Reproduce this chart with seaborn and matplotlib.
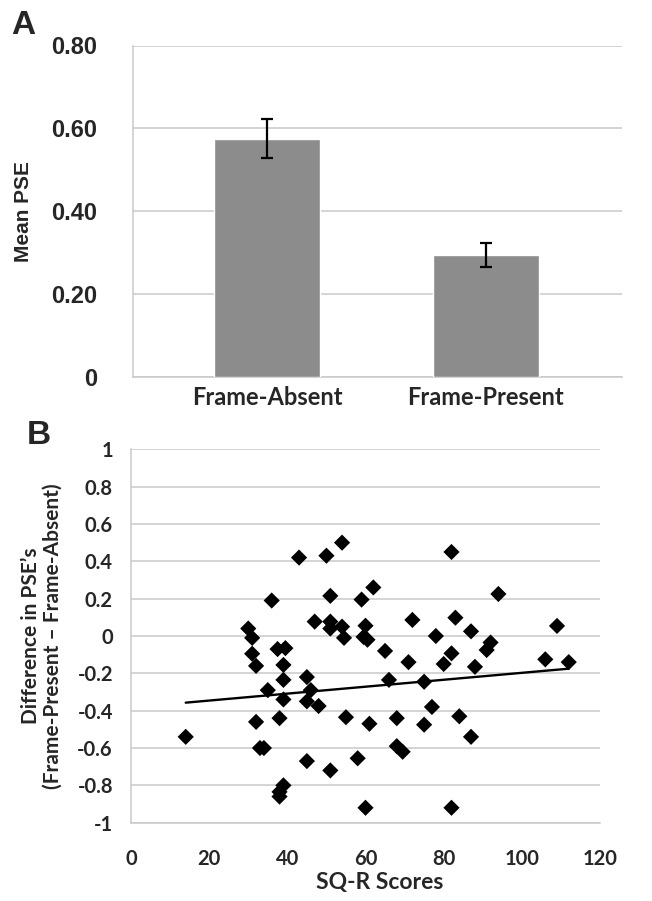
import matplotlib
matplotlib.use("Agg")
import matplotlib.pyplot as plt
import seaborn as sns
import pandas as pd
import numpy as np

# ---- Panel A data ----
conditions = ["Frame-Absent", "Frame-Present"]
mean_pse = [0.575, 0.293]
sem_pse = [0.047, 0.029]
a_ticks = [0, 0.2, 0.4, 0.6, 0.8]
a_ticklabels = ["0", "0.20", "0.40", "0.60", "0.80"]

# ---- Panel B data ----
sqr_scores = [14, 30, 31, 31, 32, 32, 33, 34, 35, 36,
              37.5, 39.5, 39, 39, 39, 38, 39, 38, 38, 43,
              45, 46, 45, 48, 45, 47, 50, 51, 51, 51,
              54, 54.5, 54, 55, 51, 58, 59, 60, 59.5, 60.5,
              61, 60, 62, 65, 66, 68, 68, 69.5, 71, 72,
              75, 75, 77, 78, 80, 82, 82, 83, 84, 82,
              87, 87, 88, 91, 92, 94, 106, 109, 112]
pse_diff = [-0.54, 0.04, -0.01, -0.095, -0.16, -0.46, -0.60, -0.60, -0.29, 0.19,
            -0.07, -0.065, -0.155, -0.235, -0.34, -0.44, -0.80, -0.835, -0.86, 0.42,
            -0.22, -0.29, -0.35, -0.375, -0.67, 0.077, 0.43, 0.215, 0.077, 0.04,
            0.05, -0.01, 0.50, -0.435, -0.72, -0.655, 0.195, 0.055, -0.005, -0.02,
            -0.47, -0.92, 0.26, -0.08, -0.235, -0.44, -0.59, -0.62, -0.14, 0.086,
            -0.245, -0.475, -0.38, 0.0, -0.15, 0.45, -0.093, 0.098, -0.43, -0.92,
            0.025, -0.54, -0.165, -0.075, -0.035, 0.225, -0.125, 0.054, -0.14]
# linear trendline as drawn in the figure (end points)
trend_x = [14, 112]
trend_y = [-0.357, -0.175]
b_yticks = [-1, -0.8, -0.6, -0.4, -0.2, 0, 0.2, 0.4, 0.6, 0.8, 1]
b_yticklabels = ["-1", "-0.8", "-0.6", "-0.4", "-0.2", "0", "0.2", "0.4", "0.6", "0.8", "1"]
b_xticks = [0, 20, 40, 60, 80, 100, 120]

sns.set_style("white")
plt.rcParams['font.family'] = ['Lato', 'DejaVu Sans']

grid_c = "#c9c9c9"
fig = plt.figure(figsize=(6.52, 9.01), dpi=100)
W, H = 652.0, 901.0

# ---------------- Panel A ----------------
a_l, a_r, a_t, a_b = 133, 622, 45.5, 376.7
axA = fig.add_axes([a_l / W, 1 - a_b / H, (a_r - a_l) / W, (a_b - a_t) / H])
dfA = pd.DataFrame({"cond": conditions, "pse": mean_pse})
sns.barplot(data=dfA, x="cond", y="pse", color="#8c8c8c", saturation=1,
            width=0.486, ax=axA, zorder=3)
axA.errorbar(range(len(conditions)), mean_pse, yerr=sem_pse, fmt="none",
             ecolor="black", elinewidth=1.6, capsize=4, capthick=1.6, zorder=4)
axA.set_ylim(0, 0.8)
axA.set_xlim(-0.615, 1.625)
axA.set_yticks(a_ticks)
axA.set_yticklabels(a_ticklabels, fontfamily="Liberation Sans", fontweight="bold", fontsize=17)
axA.set_xticks(range(len(conditions)))
axA.set_xticklabels(conditions, fontweight="bold", fontsize=17)
axA.yaxis.grid(True, color=grid_c, lw=1.1, zorder=0)
axA.set_axisbelow(True)
for s in ["top", "right"]:
    axA.spines[s].set_visible(False)
for s in ["left", "bottom"]:
    axA.spines[s].set_color(grid_c)
    axA.spines[s].set_linewidth(1.1)
axA.tick_params(axis="y", length=4, color=grid_c, width=1.1, pad=22)
axA.tick_params(axis="x", length=0, pad=7)
axA.set_xlabel("")
axA.set_ylabel("Mean PSE", fontfamily="Liberation Sans", fontweight="bold", fontsize=15, va="center")
axA.yaxis.set_label_coords((24 - a_l) / (a_r - a_l), 0.5)
fig.text(11 / W, 1 - 34 / H, "A", fontfamily="Liberation Sans", fontweight="bold", fontsize=24)

# ---------------- Panel B ----------------
b_l, b_r, b_t, b_b = 131, 600, 449.3, 822.7
axB = fig.add_axes([b_l / W, 1 - b_b / H, (b_r - b_l) / W, (b_b - b_t) / H])
dfB = pd.DataFrame({"sqr": sqr_scores, "diff": pse_diff})
dfT = pd.DataFrame({"sqr": trend_x, "diff": trend_y})
sns.lineplot(data=dfT, x="sqr", y="diff", ax=axB, color="black", lw=1.7, zorder=3)
sns.scatterplot(data=dfB, x="sqr", y="diff", ax=axB, color="black", marker="D",
                s=68, edgecolor="none", zorder=4)
axB.set_xlim(0, 120)
axB.set_ylim(-1, 1)
axB.set_xticks(b_xticks)
axB.set_xticklabels([str(t) for t in b_xticks], fontweight="bold", fontsize=14.5)
axB.set_yticks(b_yticks)
axB.set_yticklabels(b_yticklabels, fontweight="bold", fontsize=14.5)
axB.yaxis.grid(True, color=grid_c, lw=1.1, zorder=0)
axB.set_axisbelow(True)
for s in ["top", "right"]:
    axB.spines[s].set_visible(False)
for s in ["left", "bottom"]:
    axB.spines[s].set_color(grid_c)
    axB.spines[s].set_linewidth(1.1)
axB.tick_params(axis="y", length=5, color=grid_c, width=1.1, pad=8)
axB.tick_params(axis="x", length=5, color=grid_c, width=1.1, pad=14)
axB.set_xlabel("SQ-R Scores", fontweight="bold", fontsize=16.5, va="center")
axB.xaxis.set_label_coords((380 - b_l) / (b_r - b_l), -(883 - b_b) / (b_b - b_t))
axB.set_ylabel("Difference in PSE\u2019s\n(Frame-Present \u2013 Frame-Absent)",
               fontweight="bold", fontsize=15, linespacing=1.1, va="center")
axB.yaxis.set_label_coords((42 - b_l) / (b_r - b_l), 0.5)
fig.text(27 / W, 1 - 444 / H, "B", fontfamily="Liberation Sans", fontweight="bold", fontsize=24)

fig.savefig("out.png", dpi=100)
